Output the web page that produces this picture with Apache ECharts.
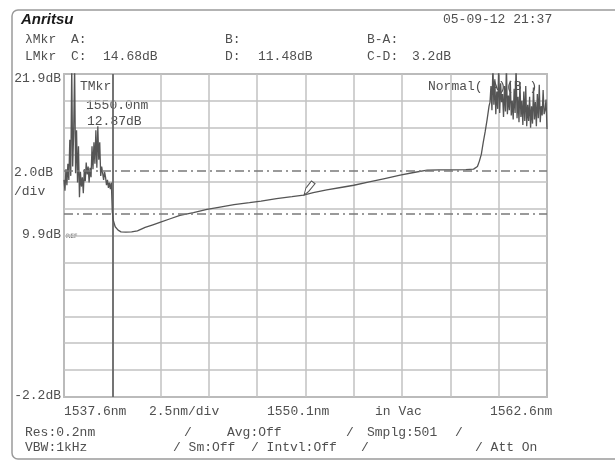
<!DOCTYPE html>
<html><head><meta charset="utf-8">
<script src="https://cdn.jsdelivr.net/npm/echarts@6/dist/echarts.min.js"></script>
<style>html,body{margin:0;padding:0;background:#fff}#c{width:615px;height:462px}</style>
</head><body><div id="c"></div>
<script>
// ---- data ----
const traceNm = [
1537.60,1537.65,1537.70,1537.75,1537.80,1537.85,1537.90,1537.95,1538.00,1538.05,
1538.10,1538.15,1538.20,1538.25,1538.30,1538.35,1538.40,1538.45,1538.50,1538.55,
1538.60,1538.65,1538.70,1538.75,1538.80,1538.85,1538.90,1538.95,1539.00,1539.05,
1539.10,1539.15,1539.20,1539.25,1539.30,1539.35,1539.40,1539.45,1539.50,1539.55,
1539.60,1539.65,1539.70,1539.75,1539.80,1539.85,1539.90,1539.95,1540.00,1540.05,
1540.10,1540.15,1540.25,1540.40,1540.55,1540.80,1541.10,1541.40,1541.80,1542.20,
1542.60,1543.10,1543.60,1544.30,1545.00,1545.60,1546.40,1547.20,1547.80,1548.60,
1549.40,1550.00,1550.50,1551.20,1552.00,1552.60,1553.40,1554.20,1555.00,1555.70,
1556.40,1557.00,1557.80,1558.40,1558.80,1559.00,1559.10,1559.20,1559.30,1559.40,
1559.50,1559.60,
1559.65,1559.70,1559.75,1559.80,1559.85,1559.90,1559.95,1560.00,1560.05,1560.10,
1560.15,1560.20,1560.25,1560.30,1560.35,1560.40,1560.45,1560.50,1560.55,1560.60,
1560.65,1560.70,1560.75,1560.80,1560.85,1560.90,1560.95,1561.00,1561.05,1561.10,
1561.15,1561.20,1561.25,1561.30,1561.35,1561.40,1561.45,1561.50,1561.55,1561.60,
1561.65,1561.70,1561.75,1561.80,1561.85,1561.90,1561.95,1562.00,1562.05,1562.10,
1562.15,1562.20,1562.25,1562.30,1562.35,1562.40,1562.45,1562.50,1562.55,1562.60
];
const traceDb = [
14.0,13.2,14.8,13.6,15.2,14.0,17.0,14.3,22.5,15.0,
17.5,22.5,14.5,17.7,13.8,16.5,12.7,14.6,13.5,14.2,
13.0,14.8,13.9,15.3,14.4,15.0,13.8,14.9,14.2,16.5,
14.8,16.8,15.2,17.7,14.9,18.0,15.5,16.8,14.3,15.0,
14.5,14.0,14.6,14.2,13.6,14.0,13.4,13.8,13.3,13.8,
11.6,11.0,10.5,10.25,10.12,10.1,10.12,10.2,10.45,10.65,
10.85,11.1,11.35,11.55,11.8,11.95,12.15,12.3,12.42,12.6,
12.75,12.87,13.05,13.25,13.45,13.6,13.85,14.1,14.35,14.55,
14.72,14.74,14.75,14.76,14.8,15.0,15.4,15.9,16.8,17.6,
18.5,19.5,
19.8,21.0,19.2,22.5,19.6,21.5,18.9,20.6,19.3,22.5,
19.0,21.2,19.8,20.4,18.7,21.0,19.1,22.5,18.9,20.3,
19.2,21.4,18.8,19.9,18.5,20.8,19.0,22.5,18.6,20.2,
18.3,21.3,18.7,19.9,18.1,20.6,18.4,21.0,18.0,19.6,
18.4,20.2,17.9,19.5,18.2,20.9,18.5,19.8,18.0,20.4,
18.6,21.1,18.3,19.5,18.8,20.7,18.9,19.2,20.0,17.8
];
const levelMarkers = [14.68, 11.48];      // C, D
const zoneMarkerNm = [1540.1];
const traceMarker = [1550.0, 12.87];
const xRange = [1537.6, 1562.6];
const yRange = [-2.2, 21.9];
const xDivisions = 10, yDivisions = 12;
const xTickLabels = ['1537.6nm', '2.5nm/div', '1550.1nm', 'in Vac', '1562.6nm'];
const yTickLabels = ['21.9dB', '2.0dB', '/div', '9.9dB', '-2.2dB'];
const headerRow1 = ['λMkr', 'A:', 'B:', 'B-A:'];
const headerRow2 = ['LMkr', 'C:', '14.68dB', 'D:', '11.48dB', 'C-D:', '3.2dB'];
const footerRow1 = ['Res:0.2nm', '/', 'Avg:Off', '/', 'Smplg:501', '/'];
const footerRow2 = ['VBW:1kHz', '/ Sm:Off', '/ Intvl:Off', '/', '/ Att On'];
const tmkrLines = ['TMkr', '1550.0nm', '12.87dB'];
const brand = 'Anritsu', stamp = '05-09-12 21:37', modeText = 'Normal( A)(B )';

// ---- layout / style ----
const MONO = '13px "Liberation Mono", "DejaVu Sans Mono", monospace';
const TXT = '#505050';
function t(text, x, y, extra) {
  return {type:'text', silent:true, style:Object.assign({text, x, y, font:MONO, fill:TXT, textVerticalAlign:'middle'}, extra||{})};
}
const g = [];
g.push({type:'rect', shape:{x:12, y:10, width:700, height:449, r:6}, style:{fill:'none', stroke:'#9a9a9a', lineWidth:1.5}, silent:true});
g.push(t(brand, 21, 20, {font:'bold italic 15px "Liberation Sans", Arial, sans-serif', fill:'#1a1a1a'}));
g.push(t(stamp, 443, 20));
[25, 71, 225, 367].forEach((x,i)=>g.push(t(headerRow1[i], x, 40)));
[25, 71, 103, 225, 258, 367, 412].forEach((x,i)=>g.push(t(headerRow2[i], x, 57)));
// y labels
g.push(t(yTickLabels[0], 61, 79, {textAlign:'right'}));
g.push(t(yTickLabels[1], 14, 173));
g.push(t(yTickLabels[2], 14, 192));
g.push(t(yTickLabels[3], 61, 235, {textAlign:'right'}));
g.push(t('REF', 66, 236, {font:'6px "DejaVu Sans", sans-serif'}));
g.push(t(yTickLabels[4], 61, 396, {textAlign:'right'}));
// x labels
[64, 149, 267, 375, 490].forEach((x,i)=>g.push(t(xTickLabels[i], x, 412)));
[25, 184, 227, 346, 367, 455].forEach((x,i)=>g.push(t(footerRow1[i], x, 433)));
[25, 173, 251, 361, 475].forEach((x,i)=>g.push(t(footerRow2[i], x, 448)));
// marker texts
[[80,87],[86,106],[87,122]].forEach((p,i)=>g.push(t(tmkrLines[i], p[0], p[1])));
g.push(t(modeText, 428, 87));

const chart = echarts.init(document.getElementById('c'), null, {renderer:'canvas'});
const hiddenAxis = {axisLine:{show:false}, axisTick:{show:false}, axisLabel:{show:false}, splitLine:{show:false}};
const gridLine = {show:true, lineStyle:{color:'#c2c2c2', width:1.5}};
chart.setOption({
  animation:false,
  backgroundColor:'#fff',
  grid:{left:64, right:68, top:74, bottom:65, show:true, borderColor:'#8a8a8a', borderWidth:1.5, backgroundColor:'transparent'},
  xAxis:[
    Object.assign({type:'value', min:xRange[0], max:xRange[1]}, hiddenAxis),
    {type:'value', min:0, max:xDivisions, interval:1, position:'top', axisLine:{show:false}, axisTick:{show:false}, axisLabel:{show:false}, splitLine:gridLine}
  ],
  yAxis:[
    Object.assign({type:'value', min:yRange[0], max:yRange[1]}, hiddenAxis),
    {type:'value', min:0, max:yDivisions, interval:1, position:'right', axisLine:{show:false}, axisTick:{show:false}, axisLabel:{show:false}, splitLine:gridLine}
  ],
  series:[{
    type:'line', xAxisIndex:0, yAxisIndex:0, symbol:'none', clip:true, silent:true,
    data: traceNm.map((x,i)=>[x, traceDb[i]]),
    lineStyle:{color:'#555', width:1.3},
    markLine:{
      silent:true, symbol:'none', label:{show:false}, animation:false,
      data:[
        ...levelMarkers.map(v=>({yAxis:v, lineStyle:{color:'#7a7a7a', width:1.5, type:[9,4,2,4]}})),
        ...zoneMarkerNm.map(v=>({xAxis:v, lineStyle:{color:'#555', width:1.5, type:'solid'}}))
      ]
    },
    markPoint:{
      silent:true, label:{show:false},
      data:[{coord:traceMarker, symbol:'path://M0,16 L2,8 L8,0 L12,3 L5,12 Z', symbolSize:[11,14], symbolOffset:[6,-7],
             itemStyle:{color:'#fff', borderColor:'#555', borderWidth:1}}]
    }
  }],
  graphic:g
});
</script></body></html>
